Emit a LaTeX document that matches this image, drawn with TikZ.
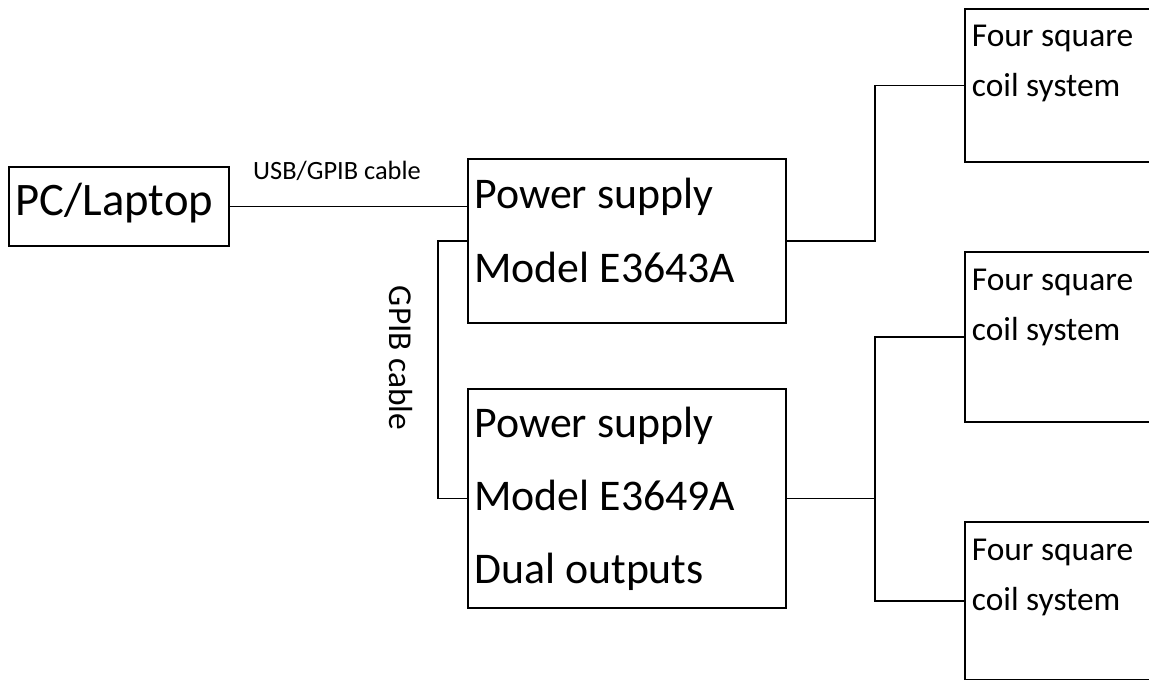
\documentclass[tikz,border=0pt]{standalone}
\usepackage{fontspec}
\setmainfont{Carlito}

\begin{document}
\begin{tikzpicture}[x=0.5pt, y=-0.5pt,
    box/.style={draw, line width=0.8pt, inner sep=0pt, outer sep=0pt},
    boxtext/.style={anchor=base west, align=left, inner sep=0pt},
    cable/.style={line width=0.8pt}]
    % Page area (pixel grid of the drawing, y pointing down)
    \useasboundingbox (0, 0) rectangle (1149, 679);
    \clip (0, 0) rectangle (1149, 679);

    % Computer
    \node[box, minimum width=110pt, minimum height=39.5pt] (pc) at (119, 206.5) {};
    \node[boxtext, font=\fontsize{23.3}{30}\selectfont] (pctext) at (15.5, 215) {PC/Laptop};

    % Two power supplies (text anchored at its last line)
    \node[box, minimum width=159pt, minimum height=82pt] (ps1) at (627, 241) {};
    \node[box, minimum width=159pt, minimum height=109.5pt] (ps2) at (627, 498.5) {};
    \node[boxtext, font=\fontsize{21.9}{37}\selectfont] (ps1text) at (474, 282) {Power supply\\Model E3643A};
    \node[boxtext, font=\fontsize{21.9}{36.5}\selectfont] (ps2text) at (474, 583) {Power supply\\Model E3649A\\Dual outputs};

    % Coil systems (cut off at the right edge)
    \node[box, minimum width=97.5pt, minimum height=76.5pt] (coil1) at (1062.5, 85.5) {};
    \node[box, minimum width=97.5pt, minimum height=85pt] (coil2) at (1062.5, 337) {};
    \node[box, minimum width=97.5pt, minimum height=79pt] (coil3) at (1062.5, 601) {};
    \node[boxtext, font=\fontsize{16.7}{25}\selectfont] (coil1text) at (971.5, 97) {Four square\\coil system};
    \node[boxtext, font=\fontsize{16.7}{25}\selectfont] (coil2text) at (971.5, 340) {Four square\\coil system};
    \node[boxtext, font=\fontsize{16.7}{25}\selectfont] (coil3text) at (971.5, 610) {Four square\\coil system};

    % Cables
    \draw[cable] (pc.east) -- (pc.east -| ps1.west);
    \draw[cable] (ps1.west) -- ++(-30, 0) |- (ps2.west);
    \draw[cable] (ps1.east) -- ++(89, 0) |- (coil1.west);
    \coordinate (split) at (875, 498.5);
    \draw[cable] (ps2.east) -- (split) |- (coil2.west);
    \draw[cable] (split) |- (coil3.west);

    % Cable labels
    \node[anchor=base, inner sep=0pt, font=\fontsize{13.2}{16}\selectfont] (usblabel) at (337, 180) {USB/GPIB cable};
    \node[inner sep=0pt, rotate=-90, font=\fontsize{16.7}{20}\selectfont] (gpiblabel) at (401, 358) {GPIB cable};
\end{tikzpicture}
\end{document}
